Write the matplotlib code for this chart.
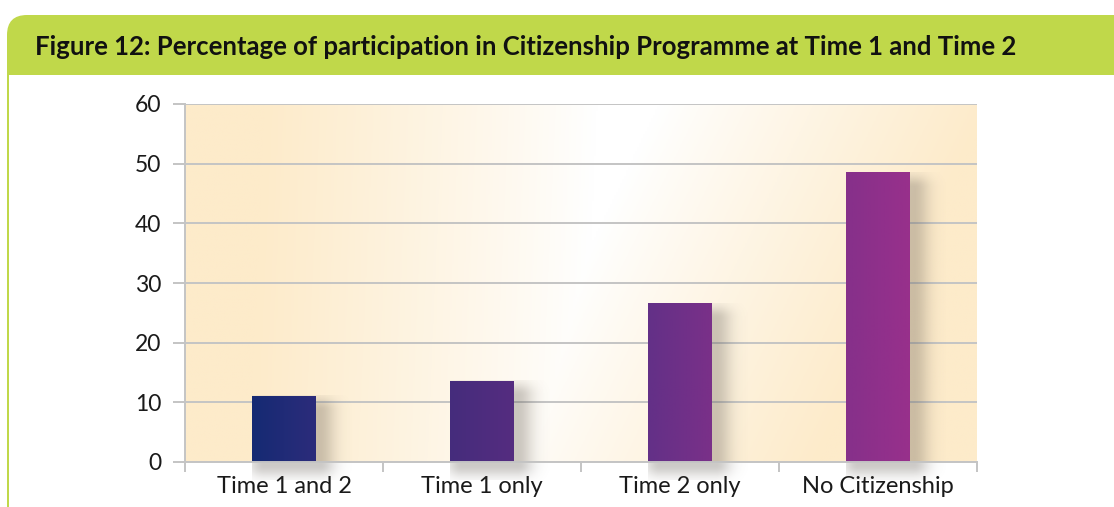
import numpy as np
import matplotlib
matplotlib.use('Agg')
import matplotlib.pyplot as plt
from matplotlib.patches import FancyBboxPatch, Rectangle
from matplotlib.colors import LinearSegmentedColormap

categories = ['Time 1 and 2', 'Time 1 only', 'Time 2 only', 'No Citizenship']
values = [11.1, 13.6, 26.6, 48.6]
yticks = [0, 10, 20, 30, 40, 50, 60]
title = 'Figure 12: Percentage of participation in Citizenship Programme at Time 1 and Time 2'

bar_left = ['#152a73', '#452d7c', '#633087', '#86308a']
bar_right = ['#2c2c7b', '#552c80', '#7a3089', '#98308c']

W, H = 11.14, 5.07
fig = plt.figure(figsize=(W, H), dpi=100)
fig.patch.set_facecolor('white')

# header band (rounded top corners), lower part covered by white
hdr = FancyBboxPatch((0.07 + 0.2, 4.32 - 0.5 + 0.2), 11.07 - 0.4 + 0.2, 5.07 - 0.15 - 4.32 + 0.5 - 0.4,
                     boxstyle='round,pad=0.2,rounding_size=0.2',
                     transform=fig.dpi_scale_trans, facecolor='#c0d84a', edgecolor='none', zorder=0)
fig.patches.append(hdr)
fig.patches.append(Rectangle((0.0, 0.0), W, 4.32, transform=fig.dpi_scale_trans,
                             facecolor='white', edgecolor='none', zorder=0.5))
fig.patches.append(Rectangle((0.07, 0.0), 0.017, 4.32, transform=fig.dpi_scale_trans,
                             facecolor='#c0d84a', edgecolor='none', zorder=1))

fig.text(35 / 1114, 1 - 47 / 507, title, fontsize=18.5, fontweight='bold',
         family='Lato', color='#111111', va='center', ha='left')

ax = fig.add_axes([185 / 1114, 45 / 507, 792 / 1114, 358 / 507])
ax.set_zorder(2)
x = np.arange(len(categories))
ax.set_xlim(-0.5, len(categories) - 0.5)
ax.set_ylim(0, 60)

# background gradient
gx = np.linspace(0, 1, 400)
gy = np.linspace(0, 1, 200)
GX, GY = np.meshgrid(gx, gy)
d = np.abs(GX - 0.56 + (1 - GY) * 0.12) + (1 - GY) * 0.1
t = np.clip((d - 0.04) / 0.42, 0, 1) ** 0.9
bg_cmap = LinearSegmentedColormap.from_list('bg', ['#ffffff', '#fdebca'])
ax.imshow(t, cmap=bg_cmap, extent=[-0.5, len(categories) - 0.5, 0, 60],
          aspect='auto', origin='lower', zorder=0, vmin=0, vmax=1)

ax.grid(axis='y', color='#c4c4c4', lw=1.4, zorder=1)
ax.set_axisbelow(True)

bars = ax.bar(x, values, width=0.32, color=bar_left, zorder=4)

# soft shadows to the right of each bar
xr = ax.get_xlim()
for b in bars:
    x0, w, h = b.get_x(), b.get_width(), b.get_height()
    sx = np.linspace(x0, x0 + w + 0.3, 120)
    sy = np.linspace(-3, h, 160)
    SX, SY = np.meshgrid(sx, sy)
    dx = np.maximum(np.maximum((x0 + 0.06) - SX, SX - (x0 + w + 0.02)), 0) / 0.08
    dy = np.maximum(np.maximum(-0.5 - SY, SY - (h - 2.5)), 0) / 2.0
    a = np.exp(-(dx ** 2 + dy ** 2)) * 0.32
    rgba = np.zeros(a.shape + (4,))
    rgba[..., 0] = 0.38
    rgba[..., 1] = 0.35
    rgba[..., 2] = 0.32
    rgba[..., 3] = a
    im = ax.imshow(rgba, extent=[sx[0], sx[-1], sy[0], sy[-1]], aspect='auto',
                   origin='lower', zorder=3, interpolation='bilinear')
    im.set_clip_on(False)

for b, cl, cr in zip(bars, bar_left, bar_right):
    x0, w, h = b.get_x(), b.get_width(), b.get_height()
    cm = LinearSegmentedColormap.from_list('b', [cl, cr])
    im = ax.imshow(np.linspace(0, 1, 100).reshape(1, -1), cmap=cm,
                   extent=[x0, x0 + w, 0, h], aspect='auto', zorder=5)
    im.set_clip_path(b)

ax.set_xlim(xr)
ax.set_ylim(0, 60)

for s in ['top', 'right']:
    ax.spines[s].set_visible(False)
for s in ['left', 'bottom']:
    ax.spines[s].set_color('#c4c4c4')
    ax.spines[s].set_linewidth(1.4)
    ax.spines[s].set_zorder(6)

ax.set_yticks(yticks)
ax.set_yticklabels([str(v) for v in yticks], family='Lato', fontsize=16.5, color='#1a1a1a')
ax.set_xticks(x)
ax.set_xticklabels(categories, family='Lato', fontsize=17, color='#1a1a1a')
ax.set_xticks(np.arange(-0.5, len(categories)), minor=True)
ax.tick_params(axis='x', which='major', length=0, pad=10)
ax.tick_params(axis='x', which='minor', length=7, width=1.4, color='#c4c4c4')
ax.tick_params(axis='y', length=9, width=1.4, color='#c4c4c4', pad=8)

fig.savefig('out.png', dpi=100)
